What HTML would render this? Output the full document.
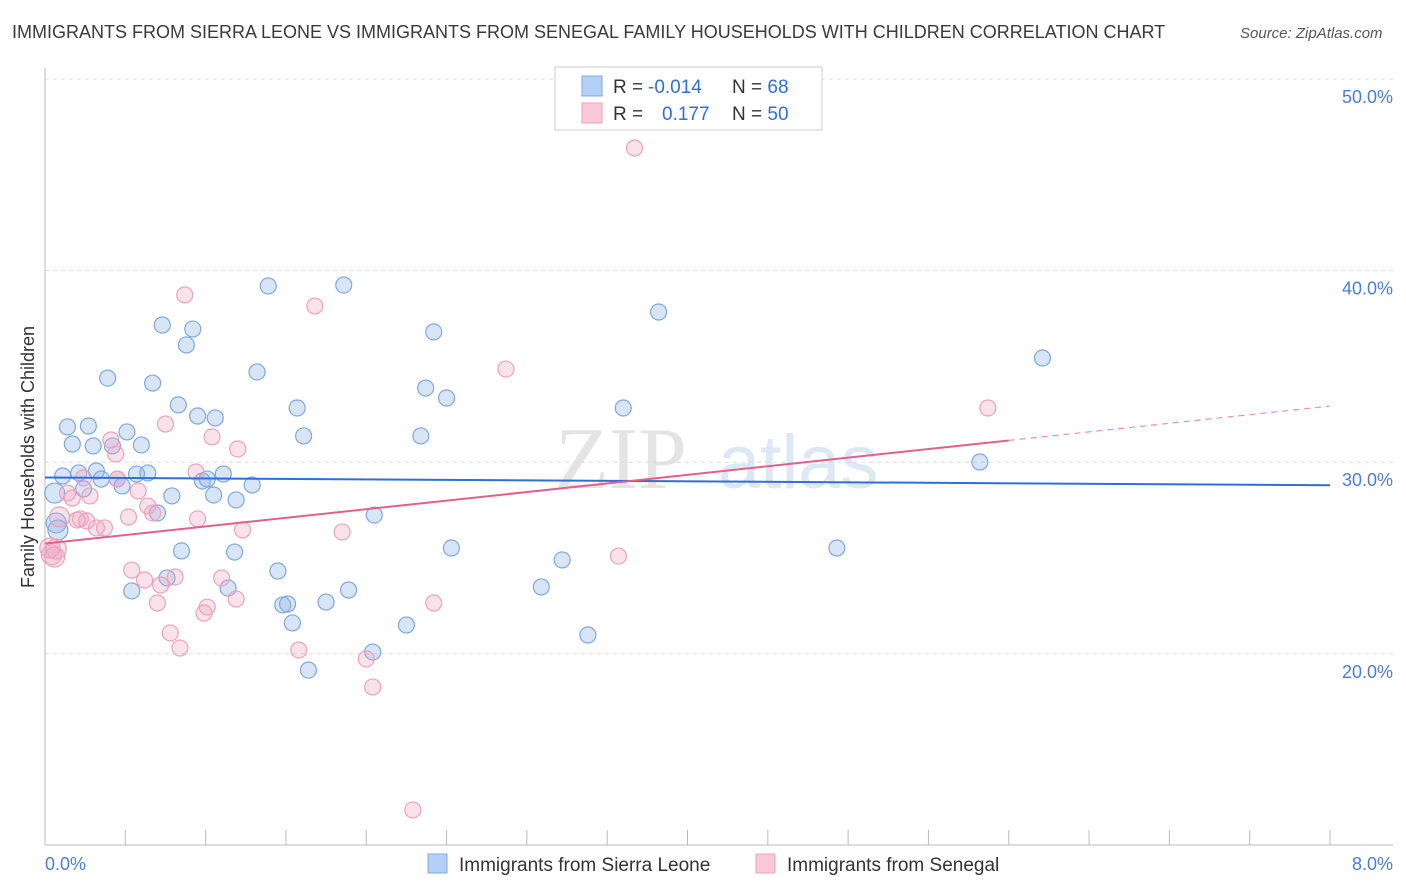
<!DOCTYPE html>
<html><head><meta charset="utf-8"><style>
body{margin:0;background:#fff;font-family:"Liberation Sans",sans-serif;}
#wrap{position:relative;width:1406px;height:892px;overflow:hidden;}
.t{position:absolute;white-space:nowrap;}
</style></head><body>
<div id="wrap">
<div class="t" style="left:12px;top:22px;font-size:18px;color:#3a3a3a;">IMMIGRANTS FROM SIERRA LEONE VS IMMIGRANTS FROM SENEGAL FAMILY HOUSEHOLDS WITH CHILDREN CORRELATION CHART</div>
<div class="t" style="left:1240px;top:25px;font-size:15px;color:#555;font-style:italic;">Source: ZipAtlas.com</div>
<svg id="chart" width="1406" height="892" style="position:absolute;left:0;top:0"></svg>
</div>
<script>
const xTicks=[0,1,2,3,4,5,6,7,8];
const yTicks=[20,30,40,50];
const blueX=[.06,.07,.08,.11,.14,.17,.21,.24,.27,.30,.32,.35,.39,.42,.45,.48,.51,.57,.60,.64,.67,.70,.73,.76,.79,.83,.85,.88,.92,.95,.98,1.01,1.05,1.06,1.11,1.14,1.18,1.19,1.29,1.32,1.39,1.45,1.48,1.51,1.54,1.57,1.61,1.64,1.75,1.86,1.89,2.05,2.04,2.25,2.34,2.37,2.42,2.50,2.53,3.09,3.22,3.38,3.60,3.82,4.93,5.82,6.21,.54];
const blueY=[28.39,26.83,26.46,29.28,31.84,30.95,29.44,28.60,31.89,30.85,29.54,29.12,34.39,30.85,29.12,28.76,31.58,29.38,30.90,29.44,34.13,27.35,37.16,23.96,28.24,32.99,25.37,36.12,36.95,32.41,29.02,29.12,28.29,32.31,29.38,23.43,25.31,28.03,28.81,34.71,39.20,24.32,22.55,22.60,21.61,32.83,31.37,19.15,22.70,39.25,23.33,27.24,20.09,21.50,31.37,33.87,36.80,33.35,25.52,23.49,24.90,20.98,32.83,37.84,25.52,30.01,35.44,23.28];
const pinkX=[.04,.07,.09,.14,.17,.20,.22,.26,.28,.32,.37,.41,.44,.45,.52,.54,.58,.62,.64,.67,.70,.72,.75,.78,.81,.84,.87,.94,.95,.99,1.01,1.04,1.10,1.19,1.20,1.23,1.58,1.68,1.85,2.00,2.04,2.29,2.42,2.87,3.57,3.67,5.87,.03,.06,.24];
const pinkY=[25.16,25.47,27.14,28.39,28.13,26.98,27.04,26.93,28.24,26.57,26.57,31.16,30.43,29.12,27.14,24.37,28.50,23.85,27.71,27.35,22.65,23.59,31.99,21.09,24.01,20.30,38.73,29.49,27.04,22.13,22.44,31.32,23.96,22.86,30.69,26.46,20.20,38.15,26.36,19.73,18.27,11.85,22.65,34.86,25.10,46.40,32.83,25.52,25.05,29.18];
const blueTrend=[29.2,28.8];
const pinkTrend=[25.75,32.93];
const pinkSolidEnd=6.0;

const NS="http://www.w3.org/2000/svg";
const svg=document.getElementById('chart');
const X=v=>45+v*(1285/8);
const Y=v=>79+(50-v)*19.16;
function el(tag,a,parent){const e=document.createElementNS(NS,tag);for(const k in a)e.setAttribute(k,a[k]);(parent||svg).appendChild(e);return e;}

// watermark
let wm=el('text',{x:555,y:488,'font-size':88,'font-family':'Liberation Serif, serif',fill:'#e4e4e4'});
wm.textContent='ZIP';


let wm2=el('text',{x:718,y:488,'font-size':76,'font-family':'Liberation Sans, sans-serif',fill:'#dde8f5'});
wm2.textContent='atlas';



yTicks.forEach(v=>{
  const g=el('line',{x1:45,x2:1393,y1:Y(v),y2:Y(v),stroke:'#dcdcdc','stroke-dasharray':'4,4'});
  
  
  const t=el('text',{x:1393,y:Y(v)+24,'text-anchor':'end','font-size':18,fill:'#4a7fd4'});
  t.textContent=v.toFixed(1)+'%';
  
  
});
const ax=el('line',{x1:45,x2:45,y1:68,y2:845,stroke:'#bbb'});


const bx=el('line',{x1:45,x2:1393,y1:845,y2:845,stroke:'#bbb'});


xTicks.forEach(v=>{
  const tk=el('line',{x1:X(v),x2:X(v),y1:830,y2:845,stroke:'#bbb'});
  
  
  if(v>0&&v<8){const m=el('line',{x1:X(v-0.5),x2:X(v-0.5),y1:830,y2:845,stroke:'#bbb'});
  
  }
});
const m7=el('line',{x1:X(7.5),x2:X(7.5),y1:830,y2:845,stroke:'#bbb'});


[[0,'0.0%','start',45],[8,'8.0%','end',1393]].forEach(d=>{
  const t=el('text',{x:d[3],y:870,'text-anchor':d[2],'font-size':18,fill:'#4a7fd4'});
  t.textContent=d[1];
  
  
});
const yt=el('text',{x:34,y:457,'text-anchor':'middle','font-size':18,fill:'#333',transform:'rotate(-90 34 457)'});
yt.textContent='Family Households with Children';



blueX.forEach((x,i)=>{
  const c=el('circle',{cx:X(x),cy:Y(blueY[i]),r:x<0.1?10:8,fill:'rgba(140,180,232,0.35)',stroke:'#7ea8e0','stroke-width':1.2});
  
  
});
pinkX.forEach((x,i)=>{
  const c=el('circle',{cx:X(x),cy:Y(pinkY[i]),r:x<0.1?10:8,fill:'rgba(240,160,190,0.3)',stroke:'#eba2bc','stroke-width':1.2});
  
  
});
const bl=el('line',{x1:X(0),x2:X(8),y1:Y(blueTrend[0]),y2:Y(blueTrend[1]),stroke:'#2f6fd6','stroke-width':2});


const pAt=v=>pinkTrend[0]+(pinkTrend[1]-pinkTrend[0])*v/8;
const pl=el('line',{x1:X(0),x2:X(pinkSolidEnd),y1:Y(pinkTrend[0]),y2:Y(pAt(pinkSolidEnd)),stroke:'#e0608e','stroke-width':2});


const pd=el('line',{x1:X(pinkSolidEnd),x2:X(8),y1:Y(pAt(pinkSolidEnd)),y2:Y(pinkTrend[1]),stroke:'#e890b0','stroke-width':1.2,'stroke-dasharray':'6,5'});



// top legend
const lg=el('rect',{x:555,y:67,width:267,height:63,fill:'#fff',stroke:'#ccc'});


[[0,'#b5d0f5','#7ea8e0','-0.014','68'],[1,'#fac8d8','#eba2bc','0.177','50']].forEach(d=>{
  const yy=86+d[0]*27;
  const s=el('rect',{x:582,y:yy-10,width:20,height:20,fill:d[1],stroke:d[2]});
  
  
  const t=el('text',{x:613,y:yy+7,'font-size':19,fill:'#333'});
  t.innerHTML='R = <tspan fill="#2f6fd6" x="'+(d[0]?662:648)+'">'+d[3]+'</tspan><tspan x="732" fill="#333">N = </tspan><tspan fill="#2f6fd6">'+d[4]+'</tspan>';
  
  
});
// bottom legend
[[428,'#b5d0f5','#7ea8e0','Immigrants from Sierra Leone'],[756,'#fac8d8','#eba2bc','Immigrants from Senegal']].forEach(d=>{
  const s=el('rect',{x:d[0],y:854,width:19,height:19,fill:d[1],stroke:d[2]});
  
  
  const t=el('text',{x:d[0]+31,y:871,'font-size':19,fill:'#333'});
  t.textContent=d[3];
  
  
});
</script>
</body></html>
